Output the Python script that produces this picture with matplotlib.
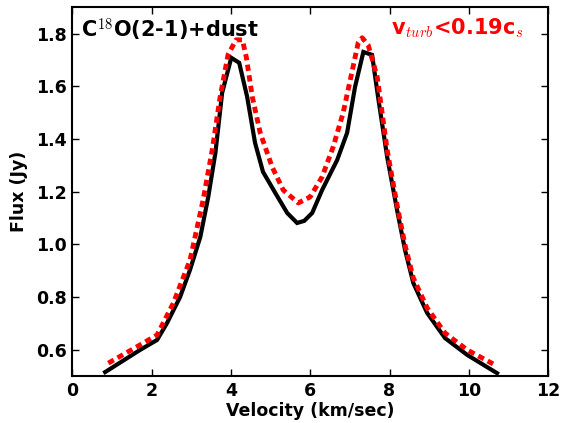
import matplotlib
matplotlib.use("Agg")
import matplotlib.pyplot as plt

plt.rcParams['mathtext.fontset'] = 'cm'
plt.rcParams['font.family'] = ['DejaVu Sans']

# Line profile without turbulence limit (solid black)
vel_model = [0.83, 1.71, 2.14, 2.39, 2.72, 2.97, 3.23, 3.43, 3.61, 3.78, 4.01,
             4.21, 4.41, 4.61, 4.81, 5.12, 5.42, 5.67, 5.85, 6.05, 6.30, 6.68,
             6.93, 7.13, 7.34, 7.56, 7.71, 7.94, 8.19, 8.39, 8.60, 8.95, 9.40,
             9.96, 10.71]
flux_model = [0.515, 0.599, 0.637, 0.701, 0.800, 0.903, 1.028, 1.180, 1.347,
              1.575, 1.708, 1.689, 1.560, 1.385, 1.275, 1.195, 1.119, 1.081,
              1.089, 1.119, 1.206, 1.320, 1.423, 1.597, 1.730, 1.719, 1.560,
              1.332, 1.130, 0.979, 0.853, 0.739, 0.644, 0.580, 0.511]

# Line profile with v_turb < 0.19 c_s (dotted red)
vel_turb = [0.91, 1.71, 2.14, 2.55, 2.97, 3.30, 3.53, 3.73, 3.93, 4.13, 4.29,
            4.39, 4.54, 4.74, 5.04, 5.32, 5.70, 6.00, 6.30, 6.58, 6.83, 7.01,
            7.21, 7.31, 7.46, 7.69, 7.94, 8.19, 8.39, 8.60, 8.95, 9.40, 9.96,
            10.61]
flux_turb = [0.549, 0.618, 0.656, 0.777, 0.940, 1.168, 1.358, 1.560, 1.720,
             1.776, 1.776, 1.710, 1.560, 1.423, 1.294, 1.206, 1.157, 1.180,
             1.256, 1.370, 1.499, 1.624, 1.765, 1.784, 1.757, 1.635, 1.358,
             1.149, 0.997, 0.872, 0.758, 0.663, 0.599, 0.546]

x_ticks = [0, 2, 4, 6, 8, 10, 12]
y_ticks = [0.6, 0.8, 1.0, 1.2, 1.4, 1.6, 1.8]

fig = plt.figure(figsize=(5.64, 4.23), dpi=100)
ax = fig.add_axes([0.128, 0.111, 0.844, 0.872])

ax.plot(vel_model, flux_model, color='black', lw=3, solid_joinstyle='miter')
ax.plot(vel_turb, flux_turb, color='red', lw=3.5, linestyle=(0, (1.3, 0.9)))

ax.set_xlim(0, 12)
ax.set_ylim(0.5, 1.9)
ax.set_xticks(x_ticks)
ax.set_yticks(y_ticks)
ax.set_xticklabels([str(t) for t in x_ticks])
ax.set_yticklabels([f"{t:.1f}" for t in y_ticks])
ax.tick_params(direction='in', top=True, right=True, length=5, width=1,
               labelsize=12.5, pad=4)
for lab in ax.get_xticklabels() + ax.get_yticklabels():
    lab.set_fontweight('bold')
for sp in ax.spines.values():
    sp.set_linewidth(1.5)

ax.set_xlabel('Velocity (km/sec)', fontsize=12.5, fontweight='bold', labelpad=2)
ax.set_ylabel('Flux (Jy)', fontsize=12.5, fontweight='bold', labelpad=6)

ax.text(0.018, 0.975, r'C$^{18}$O(2-1)+dust', transform=ax.transAxes,
        fontsize=15, fontweight='bold', va='top', ha='left')
ax.text(0.67, 0.975, r'v$_{turb}$<0.19c$_s$', transform=ax.transAxes,
        fontsize=15, fontweight='bold', color='red', va='top', ha='left')

fig.savefig('out.png', dpi=100)
